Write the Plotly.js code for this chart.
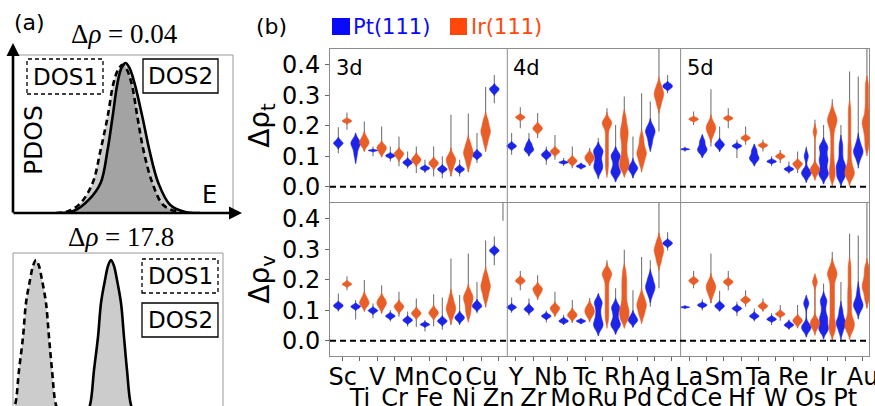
<!DOCTYPE html>
<html><head><meta charset="utf-8">
<script src="https://cdn.plot.ly/plotly-3.0.1.min.js"></script>
<style>html,body{margin:0;padding:0;background:#fff}#chart{width:875px;height:406px}</style>
</head><body><div id="chart"></div>
<script>
// ---------- panel (b) data ----------
const elements = ['Sc','Ti','V','Cr','Mn','Fe','Co','Ni','Cu','Zn',
                  'Y','Zr','Nb','Mo','Tc','Ru','Rh','Pd','Ag','Cd',
                  'La','Ce','Sm','Hf','Ta','W','Re','Os','Ir','Pt','Au'];
const groupLabels = ['3d','4d','5d'];
const groupBounds = [9.5, 19.5];
const yTicks = [0, 0.1, 0.2, 0.3, 0.4];

// body samples of each violin (Δρ_t, Pt(111))
const ptT = [
 [0.133,0.139,0.143,0.143,0.147,0.153],[0.1,0.115,0.13,0.138,0.143,0.143,0.148,0.152],[0.117,0.119,0.119,0.121],
 [0.097,0.1,0.102,0.104,0.107],[0.073,0.077,0.08,0.082,0.087],[0.056,0.059,0.061,0.063,0.066],
 [0.051,0.055,0.058,0.06,0.065],[0.051,0.055,0.058,0.06,0.065],[0.097,0.101,0.105,0.108,0.113],
 [0.31,0.316,0.32,0.323,0.328],
 [0.127,0.131,0.134,0.136,0.141],[0.116,0.12,0.123,0.126,0.138,0.142],[0.096,0.101,0.105,0.108,0.113],
 [0.077,0.08,0.08,0.083],[0.063,0.066,0.067,0.069,0.072],[0.05,0.058,0.064,0.07,0.078,0.088,0.1,0.112,0.117,0.12,0.123],
 [0.04,0.044,0.048,0.052,0.065,0.08,0.095,0.1,0.104,0.108],[0.045,0.055,0.061,0.061,0.067,0.077],[0.14,0.16,0.175,0.181,0.187,0.2],
 [0.323,0.326,0.33,0.334,0.337],
 [0.122,0.123,0.123,0.125],[0.117,0.121,0.121,0.125,0.147,0.15],[0.127,0.133,0.138,0.138,0.143,0.149],
 [0.129,0.132,0.134,0.136,0.139],[0.088,0.092,0.094,0.097,0.117,0.12],[0.079,0.082,0.083,0.085,0.088],
 [0.053,0.056,0.058,0.06,0.063],[0.038,0.042,0.045,0.048,0.052,0.098,0.102],
 [0.033,0.037,0.04,0.044,0.05,0.06,0.07,0.08,0.086,0.09,0.094,0.105,0.115,0.125,0.13,0.134,0.138],
 [0.025,0.03,0.035,0.04,0.048,0.056,0.062,0.066,0.07,0.075,0.085,0.1,0.115,0.13,0.145],
 [0.085,0.095,0.103,0.108,0.112,0.115,0.118,0.121,0.126,0.133,0.142,0.152]
];
const ptTExt = [[0.11,0.195],[0.078,0.17],[0.1,0.132],[0.083,0.132],[0.06,0.116],[0.045,0.089],[0.028,0.1],[0.034,0.089],[0.078,0.176],[0.274,0.367],
 [0.105,0.176],[0.1,0.176],[0.072,0.132],[0.068,0.094],[0.058,0.08],[0.039,0.16],[0.023,0.203],[0.028,0.165],[0.127,0.28],[0.307,0.367],
 [0.115,0.131],[0.11,0.165],[0.116,0.198],[0.094,0.154],[0.08,0.132],[0.067,0.1],[0.043,0.083],[0.028,0.132],[0.017,0.203],[0.012,0.203],[0.078,0.362]];

// Δρ_t, Ir(111)
const irT = [
 [0.211,0.214,0.216,0.218,0.221],[0.132,0.14,0.145,0.148,0.155,0.165],[0.112,0.12,0.127,0.13,0.137],
 [0.095,0.103,0.108,0.11,0.117],[0.078,0.085,0.089,0.092,0.1],[0.067,0.073,0.078,0.08,0.087],
 [0.058,0.07,0.08,0.086,0.09,0.095,0.105],[0.072,0.088,0.1,0.108,0.113,0.12,0.132,0.145],
 [0.14,0.155,0.168,0.176,0.182,0.188,0.197,0.21,0.222],
 [0.5,0.53,0.56],
 [0.222,0.226,0.228,0.23,0.234],[0.182,0.188,0.192,0.195,0.202],[0.108,0.113,0.116,0.118,0.124],
 [0.076,0.082,0.085,0.087,0.094],[0.082,0.088,0.094,0.096,0.102,0.108],
 [0.055,0.07,0.085,0.1,0.115,0.13,0.145,0.16,0.175,0.19,0.2,0.205,0.208,0.21,0.212,0.215,0.22],
 [0.055,0.062,0.07,0.078,0.086,0.095,0.11,0.125,0.14,0.155,0.165,0.175,0.185,0.195,0.21,0.23],
 [0.072,0.085,0.097,0.105,0.11,0.115,0.123,0.135,0.15,0.165],
 [0.265,0.28,0.292,0.3,0.305,0.312,0.322,0.335],
 [0.5,0.55,0.6],
 [0.217,0.22,0.222,0.224,0.227],[0.168,0.18,0.19,0.195,0.2,0.213],[0.22,0.223,0.225,0.227,0.23],
 [0.154,0.158,0.16,0.162,0.166],[0.131,0.134,0.136,0.138,0.141],[0.094,0.098,0.1,0.102,0.106],
 [0.064,0.07,0.075,0.077,0.082],[0.045,0.05,0.054,0.057,0.06,0.066,0.178,0.183],
 [0.025,0.035,0.045,0.055,0.065,0.08,0.095,0.115,0.135,0.155,0.175,0.19,0.2,0.208,0.214,0.219,0.224,0.23,0.238,0.25],
 [0.025,0.032,0.038,0.042,0.046,0.05,0.055,0.062,0.07,0.08,0.095,0.11,0.125,0.14,0.16,0.18,0.2,0.22,0.24,0.26],
 [0.125,0.14,0.155,0.17,0.18,0.19,0.198,0.205,0.21,0.215,0.222,0.23,0.245,0.26,0.28,0.3,0.32,0.34]
];
const irTExt = [[0.187,0.244],[0.12,0.214],[0.098,0.198],[0.067,0.165],[0.045,0.132],[0.034,0.132],[0.034,0.236],[0.05,0.24],[0.116,0.327],[0.47,0.6],
 [0.192,0.261],[0.16,0.242],[0.089,0.17],[0.061,0.132],[0.07,0.127],[0.04,0.258],[0.045,0.296],[0.061,0.307],[0.181,0.47],[0.48,0.65],
 [0.203,0.247],[0.132,0.32],[0.192,0.258],[0.138,0.198],[0.116,0.154],[0.078,0.121],[0.045,0.116],[0.034,0.22],[0.017,0.287],[0.017,0.378],[0.11,0.5]];

// Δρ_v, Pt(111)
const ptV = [
 [0.108,0.112,0.115,0.118,0.122],[0.106,0.11,0.112,0.114,0.118],[0.093,0.097,0.099,0.101,0.105],
 [0.075,0.079,0.081,0.083,0.087],[0.061,0.065,0.068,0.07,0.075],[0.049,0.052,0.053,0.055,0.058],
 [0.057,0.062,0.065,0.067,0.073],[0.066,0.072,0.076,0.079,0.086],[0.106,0.111,0.115,0.118,0.125],
 [0.288,0.293,0.296,0.299,0.304],
 [0.104,0.108,0.11,0.112,0.116],[0.097,0.101,0.104,0.107,0.113],[0.075,0.079,0.081,0.083,0.087],
 [0.06,0.063,0.065,0.067,0.071],[0.06,0.063,0.064,0.066,0.068],[0.04,0.046,0.052,0.058,0.066,0.078,0.092,0.108,0.122,0.127,0.131],
 [0.045,0.049,0.053,0.057,0.068,0.082,0.097,0.107,0.111,0.115],[0.058,0.064,0.068,0.07,0.077,0.085],
 [0.148,0.162,0.172,0.177,0.183,0.196,0.21],
 [0.313,0.317,0.32,0.323,0.327],
 [0.109,0.11,0.11,0.112],[0.112,0.115,0.117,0.119,0.122],[0.106,0.111,0.114,0.117,0.122],
 [0.1,0.104,0.106,0.108,0.112],[0.075,0.079,0.081,0.083,0.088],[0.066,0.069,0.071,0.073,0.077],
 [0.046,0.05,0.052,0.054,0.059],[0.036,0.042,0.046,0.05,0.12,0.125],
 [0.03,0.034,0.037,0.041,0.048,0.058,0.066,0.072,0.077,0.085,0.1,0.115,0.128,0.133,0.137],
 [0.025,0.035,0.045,0.051,0.055,0.058,0.061,0.065,0.072,0.082,0.095,0.105],
 [0.095,0.103,0.109,0.113,0.116,0.119,0.122,0.126,0.133,0.142,0.155,0.17]
];
const ptVExt = [[0.096,0.155],[0.07,0.134],[0.074,0.122],[0.063,0.101],[0.047,0.096],[0.03,0.068],[0.036,0.142],[0.052,0.15],[0.09,0.193],[0.248,0.342],
 [0.092,0.142],[0.082,0.139],[0.06,0.099],[0.052,0.085],[0.055,0.075],[0.036,0.147],[0.03,0.172],[0.045,0.166],[0.112,0.264],[0.296,0.356],
 [0.105,0.115],[0.099,0.136],[0.098,0.164],[0.081,0.128],[0.063,0.106],[0.052,0.09],[0.036,0.07],[0.023,0.134],[0.014,0.188],[0.014,0.193],[0.085,0.345]];

// Δρ_v, Ir(111)
const irV = [
 [0.181,0.184,0.186,0.188,0.192],[0.113,0.12,0.124,0.128,0.135,0.145],[0.107,0.117,0.122,0.126,0.133,0.14],
 [0.1,0.107,0.112,0.115,0.122],[0.08,0.087,0.09,0.093,0.1],[0.08,0.088,0.092,0.095,0.104],
 [0.078,0.09,0.1,0.105,0.11,0.118,0.13,0.145],[0.085,0.1,0.115,0.128,0.137,0.142,0.15,0.162],
 [0.135,0.15,0.162,0.172,0.178,0.184,0.192,0.205,0.218],
 [0.5,0.53,0.56],
 [0.19,0.194,0.197,0.2,0.205],[0.152,0.161,0.168,0.171,0.178],[0.093,0.101,0.106,0.109,0.115],
 [0.074,0.081,0.085,0.088,0.096],[0.08,0.088,0.095,0.1,0.107,0.115],
 [0.065,0.08,0.095,0.11,0.125,0.14,0.155,0.17,0.185,0.2,0.21,0.215,0.219,0.222,0.226,0.232],
 [0.065,0.072,0.08,0.088,0.095,0.102,0.11,0.12,0.135,0.15,0.165,0.18,0.195,0.21,0.23],
 [0.08,0.092,0.104,0.113,0.118,0.124,0.135,0.148],
 [0.255,0.27,0.283,0.292,0.298,0.305,0.316,0.33],
 [0.5,0.55],
 [0.19,0.194,0.197,0.2,0.204],[0.148,0.162,0.172,0.178,0.184,0.197],[0.186,0.19,0.193,0.196,0.2],
 [0.127,0.131,0.134,0.136,0.141],[0.107,0.111,0.114,0.116,0.121],[0.082,0.086,0.088,0.09,0.095],
 [0.055,0.062,0.066,0.069,0.076],[0.042,0.052,0.057,0.061,0.068,0.19,0.196],
 [0.025,0.035,0.045,0.055,0.065,0.08,0.095,0.11,0.125,0.14,0.155,0.17,0.185,0.2,0.21,0.216,0.221,0.226,0.235,0.248],
 [0.028,0.035,0.042,0.048,0.054,0.058,0.063,0.07,0.08,0.095,0.11,0.125,0.14,0.155,0.17,0.19,0.21,0.23,0.25],
 [0.13,0.145,0.158,0.168,0.175,0.18,0.186,0.195,0.205,0.218,0.232,0.245]
];
const irVExt = [[0.166,0.212],[0.1,0.199],[0.09,0.182],[0.079,0.161],[0.045,0.139],[0.048,0.153],[0.052,0.27],[0.07,0.286],[0.11,0.329],[0.394,0.6],
 [0.166,0.229],[0.134,0.215],[0.08,0.161],[0.058,0.134],[0.068,0.14],[0.058,0.264],[0.058,0.299],[0.063,0.275],[0.172,0.49],[0.47,0.6],
 [0.172,0.229],[0.123,0.286],[0.166,0.229],[0.112,0.166],[0.095,0.139],[0.066,0.117],[0.041,0.117],[0.027,0.212],[0.014,0.291],[0.02,0.351],[0.11,0.5]];

// ---------- panel (a) schematic curves ----------
const dos1TopE = [43,56,68,80,88,95,101,106,110,114,119,125,131,140,151,166,178];
const dos1TopP = [0,0.013,0.067,0.2,0.42,0.64,0.867,0.96,0.987,0.96,0.867,0.64,0.42,0.2,0.053,0.007,0];
const dos2TopE = [48,61,76,88,95,100,105,109,113,117,122,130,137,146,158,173,188];
const dos2TopP = [0,0.013,0.087,0.2,0.42,0.64,0.867,0.967,1.0,0.967,0.867,0.64,0.42,0.2,0.053,0.007,0];
const dos1BotE = [-2,2,6,10,13,17,20,23,26,29,33,36,39,43,47];
const dos1BotP = [0,0.052,0.281,0.497,0.719,0.869,0.961,1.0,0.961,0.869,0.719,0.497,0.281,0.052,0];
const dos2BotE = [73,77,81,85,88,92,95,98,101,104,108,111,114,118,122];
const dos2BotP = [0,0.052,0.281,0.497,0.719,0.869,0.961,1.0,0.961,0.869,0.719,0.497,0.281,0.052,0];

// ---------- styles ----------
const BLUE = 'rgb(28,36,232)', ORANGE = 'rgb(232,94,40)';
const LEG_BLUE = 'rgb(10,10,250)', LEG_ORANGE = 'rgb(255,72,10)';
const FRAME = '#8c8c8c';
const OFF = 0.25;
const XR = [-0.73, 30.37];
const W = 875, H = 406;
const px = v => v / W, py = v => 1 - v / H;

// kernel bandwidth: Silverman-like, bounded (smoothing choice only)
function bandwidth(s) {
  const n = s.length, m = s.reduce((a,b)=>a+b,0)/n;
  const sd = Math.sqrt(s.reduce((a,b)=>a+(b-m)*(b-m),0)/Math.max(1,n-1));
  return Math.min(0.012, Math.max(0.0015, 1.06*sd*Math.pow(n,-0.2)));
}

const traces = [];
function addSeries(bodies, exts, offset, color, xa, ya) {
  traces.push({type:'bar', x: elements.map((e,i)=>i+offset), base: exts.map(d=>d[0]),
    y: exts.map(d=>d[1]-d[0]), width: 0.06, marker:{color:'rgb(110,110,110)', line:{width:0}},
    xaxis: xa, yaxis: ya, hoverinfo:'skip', showlegend:false});
  bodies.forEach((s, i) => {
    traces.push({type:'violin', x0: i + offset, y: s, xaxis: xa, yaxis: ya,
      width: 0.55, scalemode:'width', spanmode:'soft', bandwidth: bandwidth(s),
      fillcolor: color, line:{color: color, width: 0.6}, points:false,
      box:{visible:false}, meanline:{visible:false}, hoverinfo:'skip', showlegend:false, name:''});
  });
}
addSeries(ptT, ptTExt, -OFF, BLUE, 'x', 'y');
addSeries(irT, irTExt, OFF, ORANGE, 'x', 'y');
addSeries(ptV, ptVExt, -OFF, BLUE, 'x2', 'y2');
addSeries(irV, irVExt, OFF, ORANGE, 'x2', 'y2');

// tick labels in two staggered rows
const idx = elements.map((e,i)=>i);
const row1Text = elements.map((e,i)=> i%2===0 ? e : '');
const row2Vals = idx.filter(i=>i%2===1);
const row2Text = row2Vals.map(i=>elements[i]);
// invisible helper so the second label row axis is instantiated
traces.push({type:'scatter', mode:'markers', x:row2Vals, y:row2Vals.map(()=>null), xaxis:'x5', yaxis:'y2',
  marker:{opacity:0}, hoverinfo:'skip', showlegend:false});

// schematic curves
const fillG = 'rgba(0,0,0,0.2)';
const curves = [[dos1TopE,dos1TopP,'x3','y3','6px,4px'],[dos2TopE,dos2TopP,'x3','y3','solid'],
 [dos1BotE,dos1BotP,'x4','y4','6px,4px'],[dos2BotE,dos2BotP,'x4','y4','solid']];
curves.forEach(c=>{
  traces.push({type:'scatter', mode:'none', x:c[0], y:c[1], fill:'tozeroy', fillcolor:fillG,
    line:{shape:'spline'}, xaxis:c[2], yaxis:c[3], hoverinfo:'skip', showlegend:false});
});
curves.forEach(c=>{
  traces.push({type:'scatter', mode:'lines', x:c[0], y:c[1],
    line:{shape:'spline', color:'black', width:2.6, dash:c[4]}, xaxis:c[2], yaxis:c[3], hoverinfo:'skip', showlegend:false});
});

const F = 'DejaVu Sans';
const hidden = {showgrid:false, zeroline:false, showline:false, showticklabels:false, ticks:'', fixedrange:true};
const yBase = {range:[-0.05,0.452], tickvals:yTicks, tickformat:'.1f', ticks:'outside', ticklen:4, tickcolor:'#666',
  tickfont:{size:24, family:F, color:'black'}, showgrid:false, zeroline:false, showline:true, mirror:true, linecolor:FRAME, linewidth:1};

const shapes = [
  ...groupBounds.map(b=>({type:'line', xref:'x', yref:'paper', x0:b, x1:b, y0:py(356), y1:py(49), line:{color:FRAME, width:1}})),
  {type:'line', xref:'x domain', yref:'y', x0:0, x1:1, y0:0, y1:0, line:{color:'black', width:2, dash:'6px,4px'}},
  {type:'line', xref:'x2 domain', yref:'y2', x0:0, x1:1, y0:0, y1:0, line:{color:'black', width:2, dash:'6px,4px'}},
  {type:'rect', xref:'paper', yref:'paper', x0:px(332), x1:px(350), y0:py(35), y1:py(18), fillcolor:LEG_BLUE, line:{width:0}},
  {type:'rect', xref:'paper', yref:'paper', x0:px(450), x1:px(467), y0:py(35), y1:py(18), fillcolor:LEG_ORANGE, line:{width:0}},
  {type:'rect', xref:'paper', yref:'paper', x0:px(13), x1:px(233), y0:py(213), y1:py(55), line:{color:'#999', width:1}},
  {type:'line', xref:'paper', yref:'paper', x0:px(13), x1:px(13), y0:py(406), y1:py(253), line:{color:'#999', width:1}},
  {type:'line', xref:'paper', yref:'paper', x0:px(13), x1:px(223), y0:py(253), y1:py(253), line:{color:'#999', width:1}},
  {type:'line', xref:'paper', yref:'paper', x0:px(223), x1:px(223), y0:py(406), y1:py(253), line:{color:'#999', width:1}},
  {type:'rect', xref:'paper', yref:'paper', x0:px(27), x1:px(103), y0:py(94), y1:py(59), line:{color:'black', width:1.3, dash:'4px,3px'}},
  {type:'rect', xref:'paper', yref:'paper', x0:px(143), x1:px(218), y0:py(93), y1:py(59), line:{color:'black', width:1.3}},
  {type:'rect', xref:'paper', yref:'paper', x0:px(142), x1:px(218), y0:py(293), y1:py(259), line:{color:'black', width:1.3, dash:'4px,3px'}},
  {type:'rect', xref:'paper', yref:'paper', x0:px(142), x1:px(218), y0:py(337), y1:py(303), line:{color:'black', width:1.3}}
];

const ann = (x,y,text,size,extra) => Object.assign({xref:'paper', yref:'paper', x:px(x), y:py(y), text, showarrow:false,
  xanchor:'center', yanchor:'middle', font:{family:F, size, color:'black'}}, extra||{});
const SERIF = {family:'Liberation Serif', size:27, color:'black'};
const annotations = [
  ann(12,23,'(a)',22,{xanchor:'left'}),
  ann(124,34,'Δ<i>ρ</i> = 0.04',27,{font:SERIF}),
  ann(33,140,'PDOS',25,{textangle:-90}),
  ann(209,195,'E',24),
  ann(65,77,'DOS1',23), ann(180,76,'DOS2',23),
  ann(121,237,'Δ<i>ρ</i> = 17.8',27,{font:SERIF}),
  ann(180,276,'DOS1',23), ann(180,320,'DOS2',23),
  ann(254,26,'(b)',22,{xanchor:'left'}),
  ann(351,27,'Pt(111)',21,{xanchor:'left', font:{family:F, size:21, color:LEG_BLUE}}),
  ann(469,27,'Ir(111)',21,{xanchor:'left', font:{family:F, size:21, color:LEG_ORANGE}}),
  {xref:'paper', yref:'paper', x:px(13), y:py(43), ax:0, ay:171, text:'', showarrow:true, arrowhead:2, arrowsize:1, arrowwidth:2.6, arrowcolor:'black', standoff:0, startstandoff:0},
  {xref:'paper', yref:'paper', x:px(242), y:py(213), ax:-230, ay:0, text:'', showarrow:true, arrowhead:2, arrowsize:1, arrowwidth:2.6, arrowcolor:'black', standoff:0, startstandoff:0},
  ...groupLabels.map((g,k)=>({xref:'x', yref:'y', x: k===0 ? XR[0] : groupBounds[k-1], y:0.39, xanchor:'left', yanchor:'middle',
    xshift:4, text:g, showarrow:false, font:{family:F, size:21, color:'black'}}))
];

const layout = {
  width:W, height:H, margin:{l:0,r:0,t:0,b:0}, paper_bgcolor:'white', plot_bgcolor:'rgba(0,0,0,0)',
  showlegend:false, barmode:'overlay', violinmode:'overlay', font:{family:F, color:'black'},
  xaxis:{domain:[px(330),px(869)], range:XR, type:'linear', anchor:'y', showticklabels:false, ticks:'',
    showgrid:false, zeroline:false, showline:true, mirror:true, linecolor:FRAME, linewidth:1},
  yaxis:Object.assign({domain:[py(202),py(49)], anchor:'x', title:{text:'Δρ<sub>t</sub>', font:{size:28, family:F}, standoff:4}}, yBase),
  xaxis2:{domain:[px(330),px(869)], range:XR, type:'linear', anchor:'y2', tickmode:'array', tickvals:idx, ticktext:row1Text,
    tickangle:0, ticks:'outside', ticklen:4, tickcolor:'#666', tickfont:{size:24, family:F, color:'black'},
    ticklabeloverflow:'allow', ticklabelstandoff:-5,
    showgrid:false, zeroline:false, showline:true, mirror:true, linecolor:FRAME, linewidth:1},
  yaxis2:Object.assign({domain:[py(356),py(203)], anchor:'x2', title:{text:'Δρ<sub>v</sub>', font:{size:28, family:F}, standoff:4}}, yBase),
  xaxis5:{overlaying:'x2', anchor:'y2', side:'bottom', range:XR, type:'linear', tickmode:'array', tickvals:row2Vals, ticktext:row2Text,
    tickangle:0, ticks:'outside', ticklen:4, tickcolor:'rgba(0,0,0,0)', ticklabelstandoff:16, ticklabeloverflow:'allow',
    tickfont:{size:24, family:F, color:'black'}, showgrid:false, zeroline:false, showline:false},
  xaxis3:Object.assign({domain:[px(13),px(233)], range:[0,221], anchor:'y3'}, hidden),
  yaxis3:Object.assign({domain:[py(213),py(55)], range:[0,1.053], anchor:'x3'}, hidden),
  xaxis4:Object.assign({domain:[px(13),px(223)], range:[0,210], anchor:'y4'}, hidden),
  yaxis4:Object.assign({domain:[0,py(253)], range:[0.046,1.046], anchor:'x4'}, hidden),
  shapes, annotations
};
Plotly.newPlot('chart', traces, layout, {staticPlot:true, displayModeBar:false});
</script>
</body></html>
